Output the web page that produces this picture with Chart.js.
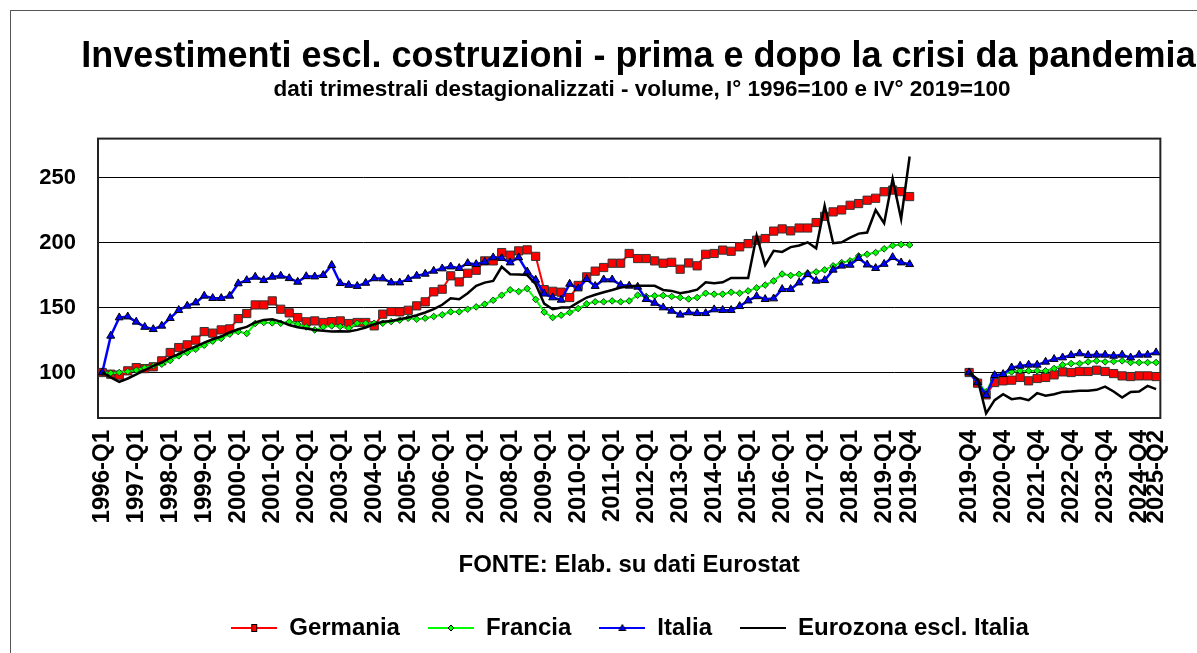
<!DOCTYPE html>
<html><head><meta charset="utf-8">
<script src="https://cdn.jsdelivr.net/npm/chart.js@4.4.1/dist/chart.umd.min.js"></script>
<style>html,body{margin:0;padding:0;background:#fff;overflow:hidden}canvas{display:block}</style>
</head><body>
<canvas id="c" width="1197" height="653"></canvas>
<script>
// ---- data ----
const titleText = 'Investimenti escl. costruzioni - prima e dopo la crisi da pandemia';
const subtitleText = 'dati trimestrali destagionalizzati - volume, I° 1996=100 e IV° 2019=100';
const sourceText = 'FONTE: Elab. su dati Eurostat';
const seriesNames = ['Germania', 'Francia', 'Italia', 'Eurozona escl. Italia'];

const firstYear = 1996, lastYear = 2019;
const postQuarters = ['2019-Q4','2020-Q1','2020-Q2','2020-Q3','2020-Q4','2021-Q1','2021-Q2','2021-Q3','2021-Q4','2022-Q1','2022-Q2','2022-Q3','2022-Q4','2023-Q1','2023-Q2','2023-Q3','2023-Q4','2024-Q1','2024-Q2','2024-Q3','2024-Q4','2025-Q1','2025-Q2'];
const gapLabels = ['', '', '', '', '', ''];
const gap = [null, null, null, null, null, null];

const shownTicks = ['1996-Q1','1997-Q1','1998-Q1','1999-Q1','2000-Q1','2001-Q1','2002-Q1','2003-Q1','2004-Q1','2005-Q1','2006-Q1','2007-Q1','2008-Q1','2009-Q1','2010-Q1','2011-Q1','2012-Q1','2013-Q1','2014-Q1','2015-Q1','2016-Q1','2017-Q1','2018-Q1','2019-Q1','2019-Q4','2020-Q4','2021-Q4','2022-Q4','2023-Q4','2024-Q4','2025-Q2'];
const yTicks = [100, 150, 200, 250];

const germania1 = [100,98.7,98,101.3,103.8,103,104.4,109,115.4,119.2,121.3,124.9,131.5,130.3,132.8,133.6,141.5,145.4,152,152,155.1,148.7,145.9,142.3,139,139.7,138.5,139.2,139.7,137.7,138.5,138.5,135.9,144.9,146.9,146.7,147.9,151.3,154.4,162.1,164.1,174.4,169.7,176.4,178.7,185.9,185.9,192.3,190.3,193.6,194.4,189.4,163.8,162.5,161.8,157.7,167,173.6,178,180.8,184.1,184.1,191.6,187.7,187.7,185.9,184.1,184.8,179.5,184.3,182.1,191,191.6,194.2,193.3,196.7,199.2,201.8,203.1,208.8,210.5,209,211.2,211.2,215.4,220.2,223.6,225.1,228.7,230,232.6,234.1,239.1,240.4,239.2,235.4];
const francia1 = [100,99.5,100,100.8,101.8,103.6,105.1,106.4,109.2,112.8,115.4,117.9,121,124.1,126.2,129.5,131.5,130,137.7,138.5,138.2,137.9,139,137.2,135.1,132.8,135.1,135.9,135.4,134.1,137.9,137.9,137.9,137.9,139.2,140.3,141.8,141,141.8,143.1,144.4,146.7,146.7,148.7,150.5,152.6,155.6,159.5,163.6,162.3,164.6,156.2,146.5,142.3,144.1,146.2,149.2,152.8,154.4,154.4,155.1,154.4,155.1,159.5,158.5,159,159.3,158.5,157.7,156.6,157.7,161,160.3,160.3,161.8,161,162.8,165.1,167.3,170.5,175.8,174.7,175.6,176.4,177.4,179,182.1,184.6,185.9,189.7,191,192.3,195.2,197.7,198.5,198.2];
const italia1 = [100,128.2,142.3,143,139,135,133.3,135.9,141.8,148,151.3,153.8,159,157.2,157.2,159,168.5,171,173.6,171,173.6,174.4,172.5,169.7,174,173.8,174.9,182.6,168.7,167.3,166.5,168.9,172.4,172.3,169.2,169.2,171.8,174.4,175.9,178.2,180,181.5,180.3,184.1,183.3,185.1,188.5,188,184.6,188.5,177.6,171.3,160.6,157.7,155.9,168.2,164.6,171.8,166.5,171.5,171.5,167.3,166.7,165.9,156.4,153.5,150,147.4,144.4,146.2,145.6,145.6,148.5,148,148,151,155.3,158.6,156.4,156.9,164.1,164.1,169.2,175.6,170.5,171,179,182.1,182.8,188,183,180.3,183.5,188.7,184.6,183.3];
const eurozona1 = [100,96.2,92.8,95.4,98.5,101.8,105.1,107.7,111.5,114.1,117.4,120,123,125.6,127.7,130.8,133.3,135.1,138.5,140.5,141,139.2,136.5,134.8,133.8,132.8,132.1,131.5,131.8,131.5,132.8,134.6,137.2,139,139.7,141,142.3,144.1,146.2,148.7,152.1,157.2,156.4,161,166.7,169.2,170.5,181.4,175.6,175.4,175,168,153,148.7,150,150,154,157.7,159.8,161.8,163.5,165.4,166.4,166.7,166.7,166.7,163.5,162.8,161,162.2,163.8,169.4,168.7,169.4,172.8,172.8,172.8,205.4,182.7,193.6,192.8,196.5,197.8,200.2,195.6,228.4,199.5,200.2,203.8,206.9,207.7,225,214.9,249,218.2,266.2];

const germania2 = [100,91.8,82.8,92.3,93.6,94.1,96.2,93.6,95.4,96.2,98.2,100.5,100,100.8,100.8,101.8,100.8,99.2,97.4,96.9,97.4,97.4,96.9];
const francia2 = [100,92.3,85.1,97.9,98.7,100.5,101.3,101.3,101.3,101.3,103.1,105.9,106.9,106.9,108.2,109,108.2,108.5,109,107.7,107.7,107.7,107.7];
const italia2 = [100,92.3,82.6,97.9,98.7,103.8,105.1,105.9,105.9,108.2,110.3,111.5,113.3,114.6,113.3,113.6,113.6,112.8,113.6,111.5,113.6,113.6,115.4];
const eurozona2 = [100,94.9,68.5,78.7,83.3,79.5,80.3,78.7,84.1,82.1,83.3,85.1,85.4,85.9,85.9,86.7,89.2,85.4,80.8,85.1,85.4,89.7,87.2];

// ---- categories ----
const preQuarters = [];
for (let y = firstYear; y <= lastYear; y++) for (let q = 1; q <= 4; q++) preQuarters.push(y + '-Q' + q);
const categories = [...preQuarters, ...gapLabels, ...postQuarters];

// ---- legend icons ----
function icon(color, marker) {
  const c = document.createElement('canvas');
  c.width = 46; c.height = 14;
  const g = c.getContext('2d');
  g.strokeStyle = color; g.lineWidth = 2;
  g.beginPath(); g.moveTo(0, 7); g.lineTo(46, 7); g.stroke();
  g.fillStyle = color; g.strokeStyle = '#000'; g.lineWidth = 1;
  if (marker === 'rect') { g.fillRect(20, 3, 6, 8); g.strokeRect(20.5, 3.5, 5, 7); }
  if (marker === 'diamond') { g.beginPath(); g.moveTo(23, 4); g.lineTo(26, 7); g.lineTo(23, 10); g.lineTo(20, 7); g.closePath(); g.fill(); g.stroke(); }
  if (marker === 'tri') { g.beginPath(); g.moveTo(23, 3.5); g.lineTo(26.5, 9.5); g.lineTo(19.5, 9.5); g.closePath(); g.fill(); g.stroke(); }
  return c;
}
const legendIcons = [icon('#FF0000', 'rect'), icon('#00FF00', 'diamond'), icon('#0000FF', 'tri'), icon('#000000', null)];

const PLOT_BOTTOM = 418;

const framePlugin = {
  id: 'frame',
  afterLayout(chart) {
    chart.boxes.forEach(b => {
      if (!b.options) return;
      if (b.options.text === titleText) { b.left = 80; b.right = 1197; }
      if (b.options.text === subtitleText) { b.left += 12; b.right += 12; }
    });
  },
  beforeDraw(chart) {
    const ctx = chart.ctx;
    ctx.save();
    ctx.fillStyle = '#fff'; ctx.fillRect(0, 0, chart.width, chart.height);
    ctx.strokeStyle = '#555'; ctx.lineWidth = 1;
    ctx.strokeRect(10.5, 10.5, 1400, 1000);
    ctx.restore();
  },
  beforeDatasetsDraw(chart) {
    const {ctx, chartArea: a} = chart;
    ctx.save();
    ctx.strokeStyle = '#222'; ctx.lineWidth = 2;
    ctx.strokeRect(a.left, a.top, a.right - a.left, a.bottom - a.top);
    ctx.restore();
  }
};

Chart.defaults.font.family = "'Liberation Sans', Arial, sans-serif";
Chart.defaults.color = '#000';

new Chart(document.getElementById('c'), {
  type: 'line',
  data: {
    labels: categories,
    datasets: [
      { label: seriesNames[0], data: [...germania1, ...gap, ...germania2], borderColor: '#FF0000', borderWidth: 2,
        pointStyle: 'rect', pointRadius: 5.8, pointBackgroundColor: '#FF0000', pointBorderColor: '#333', pointBorderWidth: 1, order: 3 },
      { label: seriesNames[1], data: [...francia1, ...gap, ...francia2], borderColor: '#00FF00', borderWidth: 2,
        pointStyle: 'rectRot', pointRadius: 3.3, pointBackgroundColor: '#00FF00', pointBorderColor: '#114411', pointBorderWidth: 1, order: 2 },
      { label: seriesNames[2], data: [...italia1, ...gap, ...italia2], borderColor: '#0000FF', borderWidth: 2.5,
        pointStyle: 'triangle', pointRadius: 4.6, pointBackgroundColor: '#0000FF', pointBorderColor: '#000', pointBorderWidth: 1, order: 1 },
      { label: seriesNames[3], data: [...eurozona1, ...gap, ...eurozona2], borderColor: '#000000', borderWidth: 2.5,
        pointRadius: 0, order: 0 }
    ]
  },
  options: {
    responsive: false,
    animation: false,
    events: [],
    spanGaps: false,
    layout: { padding: { left: 88, right: 25, top: 0, bottom: 3 } },
    plugins: {
      title: { display: true, text: titleText, color: '#000', font: { size: 36, weight: 'bold', lineHeight: 1.1 }, padding: { top: 37, bottom: 0 } },
      subtitle: { display: true, text: subtitleText, color: '#000', font: { size: 22.5, weight: 'bold', lineHeight: 1.2 }, padding: { top: 0, bottom: 35 } },
      legend: {
        position: 'bottom',
        labels: {
          usePointStyle: true, pointStyleWidth: 46, padding: 28, color: '#000',
          font: { size: 24, weight: 'bold' },
          sort: (a, b) => a.datasetIndex - b.datasetIndex,
          generateLabels(chart) {
            const items = Chart.defaults.plugins.legend.labels.generateLabels(chart);
            items.forEach(it => { it.pointStyle = legendIcons[it.datasetIndex]; });
            return items;
          }
        }
      },
      tooltip: { enabled: false }
    },
    scales: {
      x: {
        offset: true,
        grid: { display: false, drawTicks: false },
        border: { display: false },
        ticks: {
          autoSkip: false, minRotation: 90, maxRotation: 90, padding: 12, color: '#000',
          font: { size: 24, weight: 'bold' },
          callback: (v, i) => shownTicks.includes(categories[i]) ? categories[i] : ''
        },
        title: { display: true, text: sourceText, color: '#000', font: { size: 24, weight: 'bold', lineHeight: 1.2 }, padding: { top: 0, bottom: 8 } },
        afterFit(s) { s.height = s.chart.height - 3 - s.chart.legend.height - PLOT_BOTTOM; }
      },
      y: {
        min: 65, max: 280,
        afterBuildTicks(s) { s.ticks = yTicks.map(v => ({ value: v })); },
        afterFit(s) { s.width = 10; s._computeLabelArea = () => undefined; },
        grid: { color: '#000', lineWidth: 1, drawTicks: false },
        border: { display: false },
        ticks: { padding: 22, color: '#000', font: { size: 22, weight: 'bold' } }
      }
    }
  },
  plugins: [framePlugin]
});
</script>
</body></html>
